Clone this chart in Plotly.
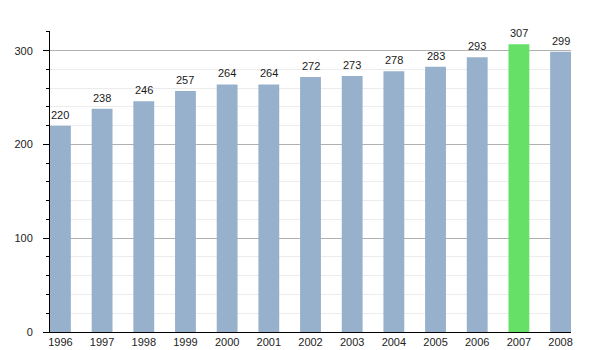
import plotly.graph_objects as go

years = ["1996", "1997", "1998", "1999", "2000", "2001", "2002",
         "2003", "2004", "2005", "2006", "2007", "2008"]
values = [220, 238, 246, 257, 264, 264, 272, 273, 278, 283, 293, 307, 299]
highlight_year = "2007"

BLUE = "#97b0cb"
GREEN = "#66e066"
colors = [GREEN if y == highlight_year else BLUE for y in years]
positions = list(range(len(years)))

fig = go.Figure(
    go.Bar(
        x=positions,
        y=values,
        width=0.5,
        marker=dict(color=colors, line=dict(width=0)),
        hoverinfo="x+y",
    )
)

# value labels sitting a few pixels above each bar
for p, v in zip(positions, values):
    fig.add_annotation(
        x=p, y=v, text=str(v), showarrow=False,
        xanchor="center", yanchor="bottom", yshift=3,
        font=dict(family="Liberation Sans, Arial, sans-serif", size=11, color="#1a1a1a"),
    )

fig.update_layout(
    width=600,
    height=350,
    margin=dict(l=50, r=29, t=31, b=18),
    paper_bgcolor="white",
    plot_bgcolor="white",
    showlegend=False,
    font=dict(family="Liberation Sans, Arial, sans-serif", size=11, color="#222"),
    xaxis=dict(
        tickmode="array",
        tickvals=positions,
        ticktext=years,
        range=[-0.25, len(years) - 0.75],
        showgrid=False,
        showline=True,
        linecolor="black",
        linewidth=1,
        ticks="",
        zeroline=False,
        automargin=False,
        tickfont=dict(size=11),
    ),
    yaxis=dict(
        range=[0, 321],
        tickvals=[0, 100, 200, 300],
        showgrid=True,
        gridcolor="#b0b0b0",
        gridwidth=1,
        showline=True,
        linecolor="black",
        linewidth=1,
        ticks="outside",
        ticklen=6,
        tickcolor="black",
        ticklabelstandoff=8,
        zeroline=False,
        automargin=False,
        tickfont=dict(size=11),
        minor=dict(
            dtick=20,
            showgrid=True,
            gridcolor="#ececec",
            ticks="outside",
            ticklen=3,
            tickcolor="black",
        ),
    ),
)

fig.write_html("out.html")
